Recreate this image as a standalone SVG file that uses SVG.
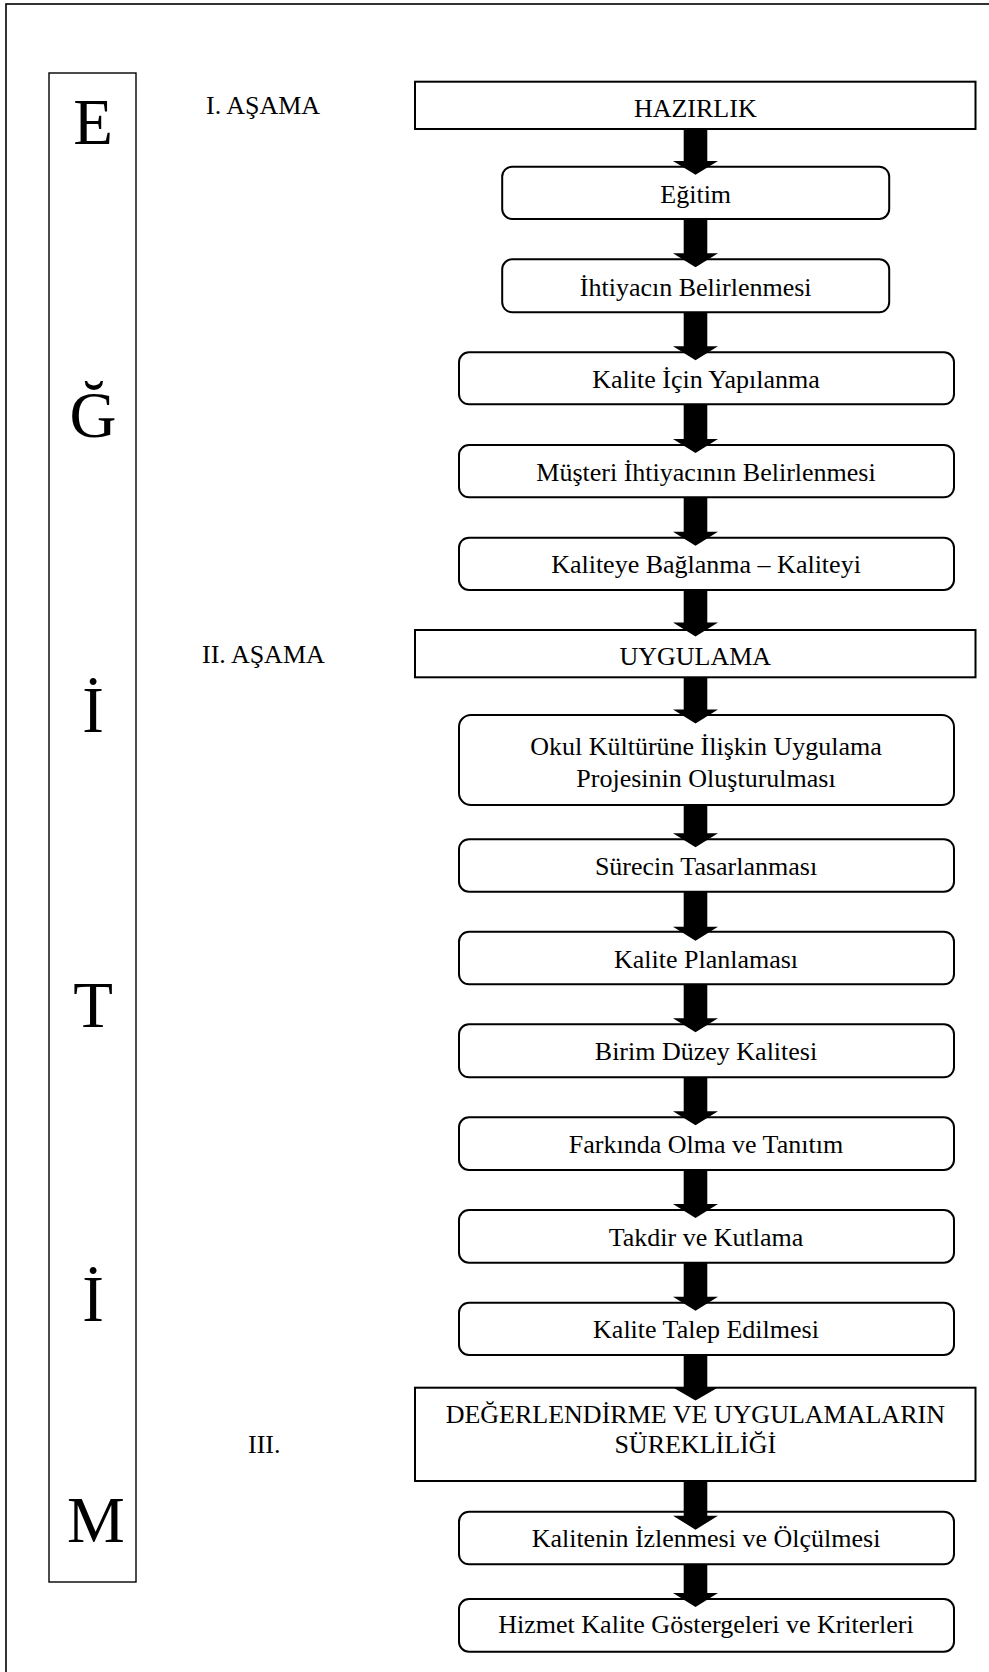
<svg xmlns="http://www.w3.org/2000/svg" width="989" height="1672" viewBox="0 0 989 1672">
<style>
  text { font-family: "Liberation Serif", "Times New Roman", serif; fill: #000; }
  .t { font-size: 26px; text-anchor: middle; }
  .lbl { font-size: 26px; }
  .big { font-size: 65px; text-anchor: middle; }
  .sq { fill: #fff; stroke: #000; stroke-width: 2; }
  .rd { fill: #fff; stroke: #000; stroke-width: 2; }
  .frame { fill: none; stroke: #000; stroke-width: 1.6; }
  .col { fill: none; stroke: #000; stroke-width: 1.4; }
  .arr { fill: #000; stroke: none; }
</style>
<rect id="frame" class="frame" x="6" y="4" width="1000" height="1700"/>

<g id="side-column">
  <rect class="col" x="49" y="73" width="87" height="1509"/>
  <text class="big" x="93" y="144">E</text>
  <text class="big" x="93" y="437">Ğ</text>
  <text class="big" x="93" y="732">İ</text>
  <text class="big" x="93" y="1027">T</text>
  <text class="big" x="93" y="1321">İ</text>
  <text class="big" x="96" y="1542">M</text>
</g>

<g id="phase-labels">
  <text class="lbl" x="206" y="114">I. AŞAMA</text>
  <text class="lbl" x="202" y="663">II. AŞAMA</text>
  <text class="lbl" x="248" y="1453">III.</text>
</g>

<g id="n-hazirlik">
  <rect class="sq" x="415" y="81.7" width="560.5" height="47.3"/>
  <text class="t" x="695.3" y="117.3">HAZIRLIK</text>
</g>
<g id="n-egitim">
  <rect class="rd" x="502.2" y="166.7" width="387" height="52.3" rx="10"/>
  <text class="t" x="695.7" y="203.3">Eğitim</text>
</g>
<g id="n-ihtiyac">
  <rect class="rd" x="502.2" y="259.3" width="387" height="53" rx="10"/>
  <text class="t" x="695.7" y="296">İhtiyacın Belirlenmesi</text>
</g>
<g id="n-yapilanma">
  <rect class="rd" x="459" y="352.3" width="495" height="52" rx="10"/>
  <text class="t" x="706" y="388.3">Kalite İçin Yapılanma</text>
</g>
<g id="n-musteri">
  <rect class="rd" x="459" y="445" width="495" height="52.3" rx="10"/>
  <text class="t" x="706" y="480.7">Müşteri İhtiyacının Belirlenmesi</text>
</g>
<g id="n-baglanma">
  <rect class="rd" x="459" y="537.7" width="495" height="52.3" rx="10"/>
  <text class="t" x="706" y="573.3">Kaliteye Bağlanma – Kaliteyi</text>
</g>
<g id="n-uygulama">
  <rect class="sq" x="415" y="630" width="560.5" height="47.3"/>
  <text class="t" x="695.3" y="665">UYGULAMA</text>
</g>
<g id="n-okul">
  <rect class="rd" x="459" y="715" width="495" height="90" rx="12"/>
  <text class="t" x="706" y="755">Okul Kültürüne İlişkin Uygulama</text>
  <text class="t" x="706" y="786.7">Projesinin Oluşturulması</text>
</g>
<g id="n-surec">
  <rect class="rd" x="459" y="839.2" width="495" height="52.5" rx="10"/>
  <text class="t" x="706" y="875">Sürecin Tasarlanması</text>
</g>
<g id="n-planlama">
  <rect class="rd" x="459" y="931.7" width="495" height="52.6" rx="10"/>
  <text class="t" x="706" y="967.7">Kalite Planlaması</text>
</g>
<g id="n-birim">
  <rect class="rd" x="459" y="1024.3" width="495" height="53" rx="10"/>
  <text class="t" x="706" y="1060">Birim Düzey Kalitesi</text>
</g>
<g id="n-farkinda">
  <rect class="rd" x="459" y="1117.3" width="495" height="52.7" rx="10"/>
  <text class="t" x="706" y="1153.3">Farkında Olma ve Tanıtım</text>
</g>
<g id="n-takdir">
  <rect class="rd" x="459" y="1210" width="495" height="52.7" rx="10"/>
  <text class="t" x="706" y="1246">Takdir ve Kutlama</text>
</g>
<g id="n-talep">
  <rect class="rd" x="459" y="1302.7" width="495" height="52.3" rx="10"/>
  <text class="t" x="706" y="1338.3">Kalite Talep Edilmesi</text>
</g>
<g id="n-degerlendirme">
  <rect class="sq" x="415" y="1387.7" width="560.5" height="93.3"/>
  <text class="t" x="695.3" y="1422.7">DEĞERLENDİRME VE UYGULAMALARIN</text>
  <text class="t" x="695.3" y="1453.3">SÜREKLİLİĞİ</text>
</g>
<g id="n-izleme">
  <rect class="rd" x="459" y="1511.7" width="495" height="52.6" rx="10"/>
  <text class="t" x="706" y="1546.7">Kalitenin İzlenmesi ve Ölçülmesi</text>
</g>
<g id="n-hizmet">
  <rect class="rd" x="459" y="1599" width="495" height="52.7" rx="10"/>
  <text class="t" x="706" y="1633.3">Hizmet Kalite Göstergeleri ve Kriterleri</text>
</g>

<g id="connectors" class="arr">
  <polygon points="683.7,129 707.3,129 707.3,161 718,161 695.5,174.7 673,161 683.7,161"/>
  <polygon points="683.7,219 707.3,219 707.3,253.3 718,253.3 695.5,267.3 673,253.3 683.7,253.3"/>
  <polygon points="683.7,312.3 707.3,312.3 707.3,346.3 718,346.3 695.5,360.3 673,346.3 683.7,346.3"/>
  <polygon points="683.7,404.3 707.3,404.3 707.3,439 718,439 695.5,453 673,439 683.7,439"/>
  <polygon points="683.7,497.3 707.3,497.3 707.3,531.7 718,531.7 695.5,545.7 673,531.7 683.7,531.7"/>
  <polygon points="683.7,590 707.3,590 707.3,622.5 718,622.5 695.5,636.5 673,622.5 683.7,622.5"/>
  <polygon points="683.7,677.3 707.3,677.3 707.3,709.5 718,709.5 695.5,723.5 673,709.5 683.7,709.5"/>
  <polygon points="683.7,805 707.3,805 707.3,833.2 718,833.2 695.5,847.2 673,833.2 683.7,833.2"/>
  <polygon points="683.7,891.7 707.3,891.7 707.3,926.7 718,926.7 695.5,940.7 673,926.7 683.7,926.7"/>
  <polygon points="683.7,984.3 707.3,984.3 707.3,1018.3 718,1018.3 695.5,1032.3 673,1018.3 683.7,1018.3"/>
  <polygon points="683.7,1077.3 707.3,1077.3 707.3,1111.3 718,1111.3 695.5,1125.3 673,1111.3 683.7,1111.3"/>
  <polygon points="683.7,1170 707.3,1170 707.3,1204 718,1204 695.5,1218 673,1204 683.7,1204"/>
  <polygon points="683.7,1262.7 707.3,1262.7 707.3,1296.7 718,1296.7 695.5,1310.7 673,1296.7 683.7,1296.7"/>
  <polygon points="683.7,1355 707.3,1355 707.3,1387.5 718,1387.5 695.5,1400.5 673,1387.5 683.7,1387.5"/>
  <polygon points="683.7,1481 707.3,1481 707.3,1515.7 718,1515.7 695.5,1529.7 673,1515.7 683.7,1515.7"/>
  <polygon points="683.7,1564.3 707.3,1564.3 707.3,1593 718,1593 695.5,1607 673,1593 683.7,1593"/>
</g>
</svg>
